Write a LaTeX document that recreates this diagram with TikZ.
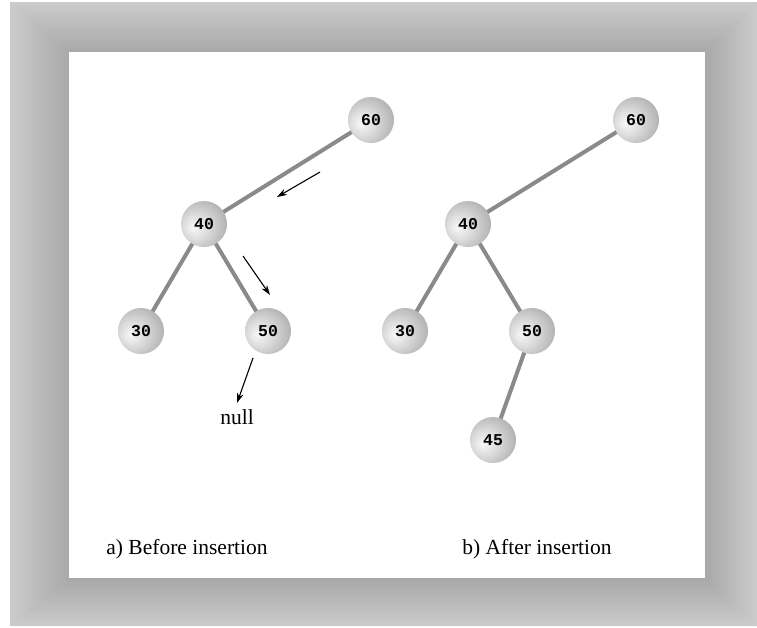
\documentclass[tikz,border=0pt]{standalone}
\usepackage{fontspec}
\setmainfont{Liberation Serif}
\setmonofont{Liberation Mono}
\usetikzlibrary{arrows.meta}

\pgfdeclarelayer{frame}
\pgfdeclarelayer{edges}
\pgfsetlayers{frame,edges,main}

\definecolor{linkgray}{gray}{0.54}
\pgfdeclareradialshading{keyball}{\pgfpoint{-12bp}{-4bp}}{%
  color(0bp)=(gray!6); color(14bp)=(gray!28); color(32bp)=(gray!62); color(44bp)=(gray!84); color(60bp)=(gray!90)}

\begin{document}
\begin{tikzpicture}[x=1pt, y=-1pt,
				key/.style={circle, shading=keyball, inner sep=0pt, minimum size=46pt,
					font=\ttfamily\bfseries\fontsize{16.5}{16.5}\selectfont},
				link/.style={draw=linkgray, line width=4pt},
				hint/.style={-{Stealth[length=10pt, width=6.5pt]}, line width=1.1pt},
				caption/.style={font=\fontsize{21.5}{21.5}\selectfont}
				]
				\useasboundingbox (0,0) rectangle (757,627);
				% frame
				\begin{pgfonlayer}{frame}
				\fill[gray!40] (10,2) rectangle (757,626);
				\shade[top color=gray!40, bottom color=gray!68] (10,2) -- (757,2) -- (705,52) -- (69,52) -- cycle;
				\shade[left color=gray!40, right color=gray!68] (10,2) -- (69,52) -- (69,578) -- (10,626) -- cycle;
				\shade[left color=gray!68, right color=gray!40] (757,2) -- (705,52) -- (705,578) -- (757,626) -- cycle;
				\shade[top color=gray!68, bottom color=gray!40] (10,626) -- (69,578) -- (705,578) -- (757,626) -- cycle;
				\fill[white] (69,52) rectangle (705,578);
				\end{pgfonlayer}
				% a) before insertion
				\node[key] (a60) at (371,120) {60};
				\node[key] (a40) at (204,224) {40};
				\node[key] (a30) at (141,331) {30};
				\node[key] (a50) at (268,331) {50};
				\node[caption] (anull) at (237,417) {null};
				% b) after insertion
				\node[key] (b60) at (636,120) {60};
				\node[key] (b40) at (468,224) {40};
				\node[key] (b30) at (405,331) {30};
				\node[key] (b50) at (532,331) {50};
				\node[key] (b45) at (493,440) {45};
				% links, below the keys
				\begin{pgfonlayer}{edges}
				\foreach \p/\c in {a60/a40, a40/a30, a40/a50, b60/b40, b40/b30, b40/b50, b50/b45}
					\draw[link] (\p.center) -- (\c.center);
				\end{pgfonlayer}
				% search path
				\coordinate (s1) at (320,172);
				\coordinate (e1) at (277,197);
				\coordinate (s2) at (243,256);
				\coordinate (e2) at (270,295);
				\coordinate (s3) at (253,358);
				\coordinate (e3) at (237,403);
				\draw[hint] (s1) -- (e1);
				\draw[hint] (s2) -- (e2);
				\draw[hint] (s3) -- (e3);
				\node[caption] (acap) at (187,549) {a) Before insertion};
				\node[caption] (bcap) at (537,549) {b) After insertion};
\end{tikzpicture}
\end{document}
